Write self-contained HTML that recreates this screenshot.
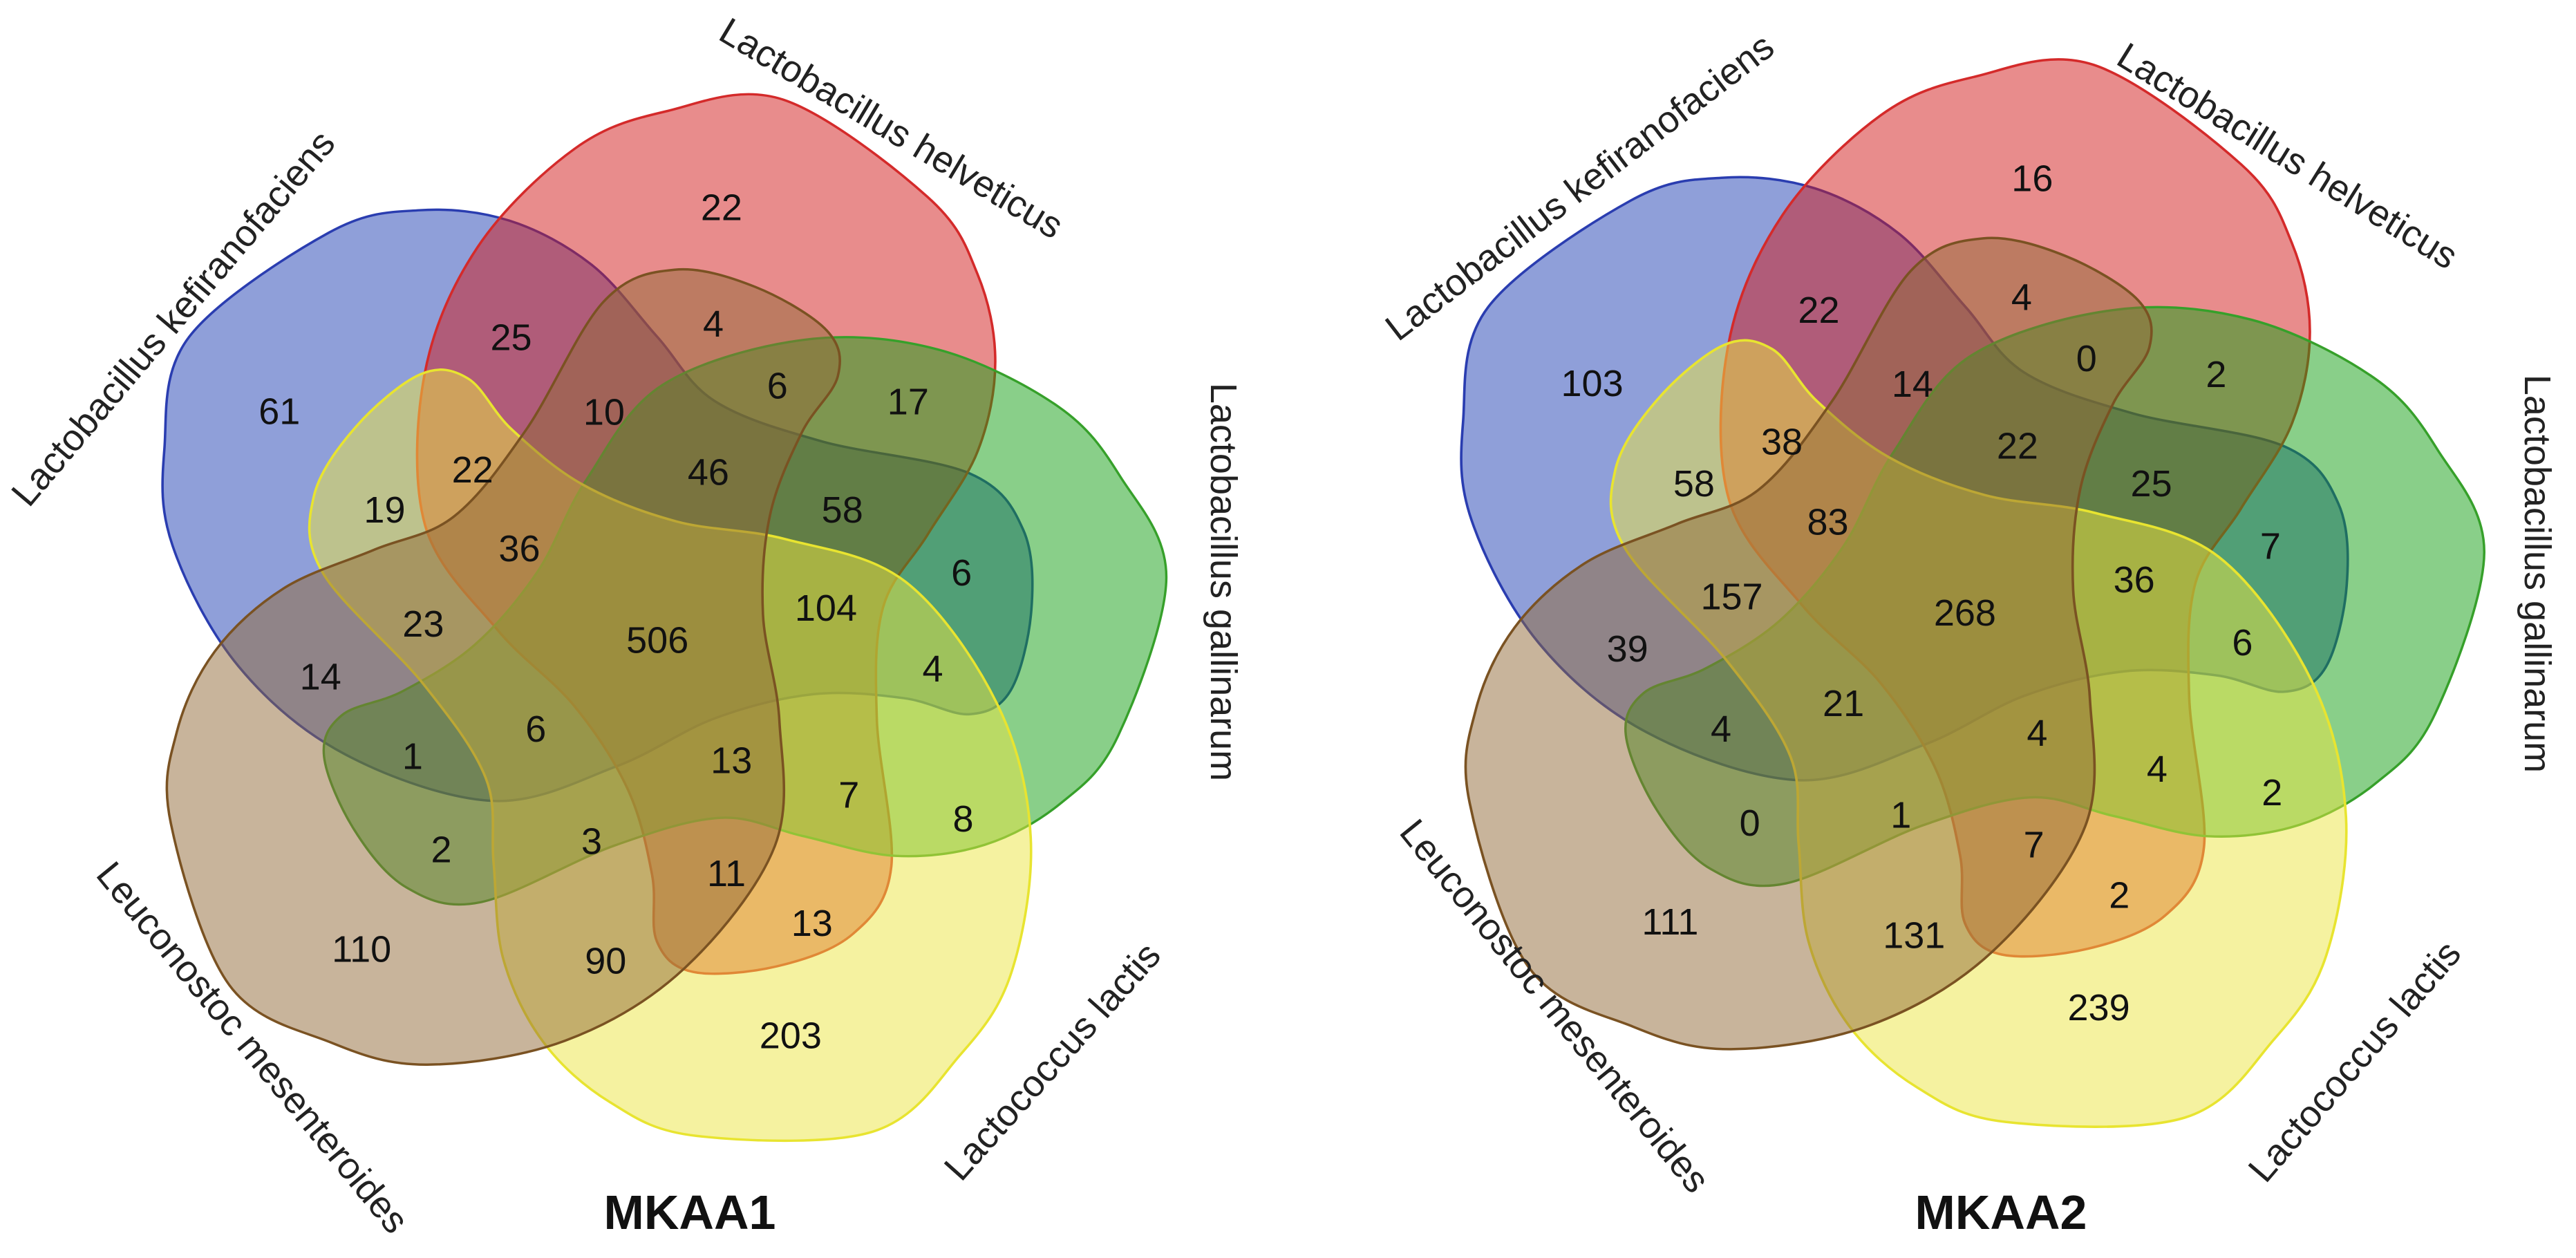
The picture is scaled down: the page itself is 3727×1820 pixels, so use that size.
<!DOCTYPE html>
<html><head><meta charset="utf-8"><style>
html,body{margin:0;padding:0;background:#fff;}
svg{display:block;}
text{font-family:"Liberation Sans",Arial,sans-serif;}
</style></head><body>
<svg id="chart" width="3727" height="1820" viewBox="0 0 3727 1820" xmlns="http://www.w3.org/2000/svg">
<rect width="3727" height="1820" fill="#fff"/>
</svg>
<script>
const setNames = ["Lactobacillus kefiranofaciens","Lactobacillus helveticus","Lactobacillus gallinarum","Lactococcus lactis","Leuconostoc mesenteroides"];
const mkaa1Values = [22,25,4,61,10,6,17,22,46,19,58,36,6,104,23,506,14,4,6,1,13,7,8,2,3,11,13,110,90,203];
const mkaa2Values = [16,22,4,103,14,0,2,38,22,58,25,83,7,36,157,268,39,6,21,4,4,4,2,0,1,7,2,111,131,239];
const panelTitles = ["MKAA1","MKAA2"];
// layout (not data): region label anchor points in panel-local units
const pos1 = [[878,258],[622,420],[868,403],[340,512],[735,513],[946,480],[1105,500],[575,585],[862,588],[468,635],[1025,635],[632,683],[1170,713],[1005,757],[515,777],[800,797],[390,843],[1135,833],[652,908],[502,942],[890,947],[1033,990],[1172,1020],[537,1058],[720,1048],[884,1088],[988,1150],[440,1182],[737,1197],[962,1290]];
const pos2 = [[906,222],[646,386],[893,370],[370,477],[760,478],[972,446],[1130,466],[601,550],[888,555],[494,602],[1051,602],[657,650],[1196,680],[1030,722],[540,743],[824,763],[413,808],[1162,800],[676,876],[527,908],[912,913],[1058,958],[1198,987],[562,1025],[746,1015],[908,1052],[1012,1115],[465,1148],[762,1165],[987,1255]];
// set label placement in page pixels [x, y, angle]
const labels1 = [[250,460,-49.8],[1290,185,30.9],[1771,842,90],[1522,1535,-48.3],[366,1515,50.6]];
const labels2 = [[2285,270,-37.5],[3310,225,31.9],[3672,830,90],[3406,1535,-49.4],[2250,1455,51]];
const fills = ["rgba(31,63,180,0.5)","rgba(210,25,25,0.5)","rgba(20,160,20,0.5)","rgba(235,230,65,0.5)","rgba(145,105,55,0.5)"];
const strokes = ["#2a3db0","#d42a2a","#36a02a","#e8e430","#7a5222"];
const shapeIds = ["kefiranofaciens","helveticus","gallinarum","lactis","mesenteroides"];
const shapeShift = [[0,0,1],[-30,0,1],[-50,-30,0.96],[0,-20,1],[0,0,1]];
const blob = [[-300,-528],[-190,-515],[-90,-460],[-10,-370],[60,-290],[190,-240],[370,-200],[435,-130],[445,-30],[420,70],[370,100],[290,80],[180,75],[60,105],[-60,165],[-210,208],[-390,150],[-520,40],[-600,-110],[-610,-230],[-580,-370],[-410,-500]];

const NS="http://www.w3.org/2000/svg";
const svg=document.getElementById('chart');
function mk(tag,attrs,parent){const e=document.createElementNS(NS,tag);for(const k in attrs)e.setAttribute(k,attrs[k]);parent.appendChild(e);return e;}
function pathFor(pts){
  const n=pts.length;let d=`M${pts[0][0]},${pts[0][1]}`;
  for(let i=0;i<n;i++){
    const p0=pts[(i-1+n)%n],p1=pts[i],p2=pts[(i+1)%n],p3=pts[(i+2)%n];
    const c1=[p1[0]+(p2[0]-p0[0])/6,p1[1]+(p2[1]-p0[1])/6];
    const c2=[p2[0]-(p3[0]-p1[0])/6,p2[1]-(p3[1]-p1[1])/6];
    d+=` C${c1[0]},${c1[1]} ${c2[0]},${c2[1]} ${p2[0]},${p2[1]}`;
  }
  return d+'Z';
}
function drawPanel(idx,ox,sx,sy,cx,cy,sc,values,positions,labels,titleX){
  const g=mk('g',{},svg);
  
  
  const sg=mk('g',{transform:`translate(${ox},0) scale(${sx},${sy}) translate(${cx},${cy}) scale(${sc})`},g);
  const d=pathFor(blob);
  for(let k=0;k<5;k++){
    const s=shapeShift[k];
    const p=mk('path',{d:d,transform:`translate(${s[0]},${s[1]}) rotate(${72*k}) scale(${s[2]})`,fill:fills[k],stroke:strokes[k],'stroke-width':3},sg);
    
    
  }
  values.forEach((v,i)=>{
    const t=mk('text',{x:ox+positions[i][0]*sx,y:positions[i][1]*sy+19,'font-size':54,'text-anchor':'middle',fill:'#111'},g);
    
    
    t.textContent=v;
  });
  labels.forEach((l,i)=>{
    const t=mk('text',{x:0,y:19,'font-size':54,'text-anchor':'middle',fill:'#222',transform:`translate(${l[0]},${l[1]}) rotate(${l[2]})`},g);
    
    
    t.textContent=setNames[i];
  });
  const tt=mk('text',{x:titleX,y:1778,'font-size':70,'font-weight':'bold','text-anchor':'middle',fill:'#111'},g);
  
  
  tt.textContent=panelTitles[idx];
}
drawPanel(0,0,1.189,1.161,810,790,1,mkaa1Values,pos1,labels1,998);
drawPanel(1,1864,1.188,1.161,835,760,1.02,mkaa2Values,pos2,labels2,2895);
</script>
</body></html>
